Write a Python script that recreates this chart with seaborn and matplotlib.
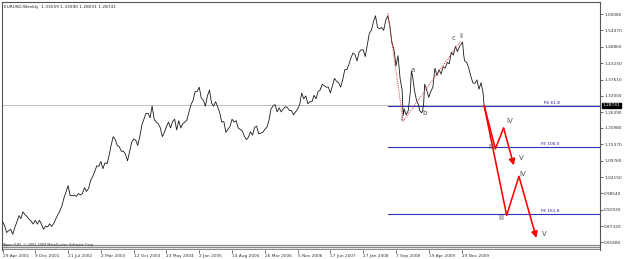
import numpy as np
import pandas as pd
import matplotlib
matplotlib.use("Agg")
import matplotlib.pyplot as plt
import seaborn as sns
from matplotlib.transforms import blended_transform_factory

sns.set_theme(style="white")
plt.rcParams["font.family"] = ["DejaVu Sans"]

# ---------------- data ----------------
dates = [
    "2001-04-29","2001-05-13","2001-05-27","2001-06-10","2001-06-24","2001-07-08","2001-07-22",
    "2001-08-05","2001-08-19","2001-09-02","2001-09-16","2001-09-30","2001-10-14","2001-10-28",
    "2001-11-11","2001-11-25","2001-12-09","2001-12-23",
    "2002-01-06","2002-01-20","2002-02-03","2002-02-17","2002-03-03","2002-03-17","2002-03-31",
    "2002-04-14","2002-04-28","2002-05-12","2002-05-26","2002-06-09","2002-06-23","2002-07-07",
    "2002-07-21","2002-08-04","2002-08-18","2002-09-01","2002-09-15","2002-09-29","2002-10-13",
    "2002-10-27","2002-11-10","2002-11-24","2002-12-08","2002-12-22",
    "2003-01-05","2003-01-19","2003-02-02","2003-02-16","2003-03-02","2003-03-16","2003-03-30",
    "2003-04-13","2003-04-27","2003-05-11","2003-05-25","2003-06-08","2003-06-22","2003-07-06",
    "2003-07-20","2003-08-03","2003-08-17","2003-08-31","2003-09-14","2003-09-28","2003-10-12",
    "2003-10-26","2003-11-09","2003-11-23","2003-12-07","2003-12-21",
    "2004-01-04","2004-01-18","2004-02-01","2004-02-15","2004-02-29","2004-03-14","2004-03-28",
    "2004-04-11","2004-04-25","2004-05-09","2004-05-23","2004-06-06","2004-06-20","2004-07-04",
    "2004-07-18","2004-08-01","2004-08-15","2004-08-29","2004-09-12","2004-09-26","2004-10-10",
    "2004-10-24","2004-11-07","2004-11-21","2004-12-05","2004-12-19",
    "2005-01-02","2005-01-16","2005-01-30","2005-02-13","2005-02-27","2005-03-13","2005-03-27",
    "2005-04-10","2005-04-24","2005-05-08","2005-05-22","2005-06-05","2005-06-19","2005-07-03",
    "2005-07-17","2005-07-31","2005-08-14","2005-08-28","2005-09-11","2005-09-25","2005-10-09",
    "2005-10-23","2005-11-06","2005-11-20","2005-12-04","2005-12-18",
    "2006-01-01","2006-01-15","2006-01-29","2006-02-12","2006-02-26","2006-03-12","2006-03-26",
    "2006-04-09","2006-04-23","2006-05-07","2006-05-21","2006-06-04","2006-06-18","2006-07-02",
    "2006-07-16","2006-07-30","2006-08-13","2006-08-27","2006-09-10","2006-09-24","2006-10-08",
    "2006-10-22","2006-11-05","2006-11-19","2006-12-03","2006-12-17","2006-12-31",
    "2007-01-14","2007-01-28","2007-02-11","2007-02-25","2007-03-11","2007-03-25","2007-04-08",
    "2007-04-22","2007-05-06","2007-05-20","2007-06-03","2007-06-17","2007-07-01","2007-07-15",
    "2007-07-29","2007-08-12","2007-08-26","2007-09-09","2007-09-23","2007-10-07","2007-10-21",
    "2007-11-04","2007-11-18","2007-12-02","2007-12-16","2007-12-30",
    "2008-01-13","2008-01-27","2008-02-10","2008-02-24","2008-03-09","2008-03-23","2008-04-06",
    "2008-04-20","2008-05-04","2008-05-18","2008-06-01","2008-06-15","2008-06-29","2008-07-13",
    "2008-07-27","2008-08-10","2008-08-24","2008-09-07","2008-09-21","2008-10-05","2008-10-19",
    "2008-10-26","2008-11-02","2008-11-16","2008-11-30","2008-12-14","2008-12-21","2008-12-28",
    "2009-01-11","2009-01-25","2009-02-08","2009-02-15","2009-03-01","2009-03-08","2009-03-15",
    "2009-03-22","2009-04-05","2009-04-19","2009-05-03","2009-05-17","2009-05-31","2009-06-14",
    "2009-06-28","2009-07-12","2009-07-26","2009-08-09","2009-08-23","2009-09-06","2009-09-20",
    "2009-10-04","2009-10-18","2009-11-01","2009-11-15","2009-11-29","2009-12-06","2009-12-13",
    "2009-12-20","2010-01-03","2010-01-17","2010-01-31","2010-02-14","2010-02-28","2010-03-14",
    "2010-03-28","2010-04-11","2010-04-25","2010-05-02",
]
closes = [
    0.889,0.875,0.851,0.857,0.862,0.845,0.868,
    0.887,0.909,0.899,0.922,0.912,0.906,0.896,
    0.890,0.880,0.893,0.880,
    0.893,0.880,0.862,0.873,0.870,0.881,0.872,
    0.882,0.898,0.912,0.925,0.943,0.970,0.990,
    1.012,0.978,0.977,0.980,0.975,0.985,0.980,
    0.985,1.005,0.992,1.002,1.030,
    1.043,1.060,1.080,1.078,1.095,1.070,1.090,
    1.087,1.115,1.150,1.180,1.170,1.150,1.145,
    1.130,1.130,1.120,1.097,1.128,1.160,1.172,
    1.168,1.150,1.180,1.220,1.240,
    1.260,1.260,1.245,1.285,1.240,1.230,1.225,
    1.210,1.180,1.195,1.215,1.230,1.210,1.232,
    1.240,1.203,1.235,1.210,1.225,1.230,1.238,
    1.265,1.290,1.305,1.335,1.335,
    1.350,1.312,1.305,1.285,1.320,1.340,1.295,
    1.285,1.300,1.282,1.262,1.230,1.232,1.195,
    1.205,1.215,1.240,1.230,1.235,1.210,1.205,
    1.200,1.182,1.170,1.178,1.197,
    1.185,1.212,1.216,1.190,1.192,1.195,1.205,
    1.212,1.235,1.275,1.285,1.290,1.265,1.279,
    1.265,1.275,1.283,1.280,1.270,1.270,1.255,
    1.265,1.275,1.290,1.330,1.310,1.320,
    1.293,1.300,1.300,1.322,1.310,1.335,1.340,
    1.360,1.355,1.350,1.350,1.330,1.355,1.380,
    1.370,1.365,1.350,1.375,1.410,1.410,1.428,
    1.450,1.467,1.462,1.440,1.470,
    1.478,1.478,1.455,1.495,1.535,1.545,1.575,
    1.595,1.555,1.550,1.555,1.545,1.580,1.595,
    1.562,1.502,1.480,1.423,1.458,1.380,1.340,
    1.252,1.275,1.255,1.270,1.335,1.405,1.392,
    1.340,1.305,1.290,1.270,1.262,1.268,1.295,
    1.360,1.340,1.315,1.335,1.350,1.415,1.390,
    1.410,1.395,1.420,1.415,1.435,1.430,1.470,
    1.460,1.490,1.472,1.490,1.500,1.505,1.462,
    1.440,1.435,1.415,1.388,1.365,1.363,1.375,
    1.343,1.365,1.330,1.2874,
]

tick_dates = ["2001-04-29","2001-12-09","2002-07-21","2003-03-02","2003-10-12","2004-05-23",
              "2005-01-02","2005-08-14","2006-03-26","2006-11-05","2007-06-17","2008-01-27",
              "2008-09-07","2009-04-19","2009-11-29"]
tick_labels = ["29 Apr 2001","9 Dec 2001","21 Jul 2002","2 Mar 2003","12 Oct 2003","23 May 2004",
               "2 Jan 2005","14 Aug 2005","26 Mar 2006","5 Nov 2006","17 Jun 2007","27 Jan 2008",
               "7 Sep 2008","19 Apr 2009","29 Nov 2009"]
price_labels = ["1.60080","1.54470","1.48860","1.43250","1.37610","1.32000","1.26390","1.20980",
                "1.15370","1.09760","1.04150","0.98540","0.92930","0.87320","0.81680"]
price_ticks = [float(s) for s in price_labels]

title_text = "EURUSD,Weekly  1.33559 1.33590 1.28031 1.28741"
last_price = 1.28741

# Fibonacci expansion levels
fib_names = ["PE 61.8", "FE 100.0", "FE 161.8"]
fib_levels = [1.2853, 1.1437, 0.9146]
fib_start = "2008-07-13"

# wave count (dotted) : peak -> I -> II
wave_dates = ["2008-07-13", "2008-10-26", "2009-11-22"]
wave_prices = [1.6038, 1.2330, 1.5080]

# projections
proj1_dates = ["2010-05-02", "2010-07-18", "2010-09-12", "2010-11-21"]
proj1_prices = [1.2874, 1.1380, 1.2100, 1.0816]
proj2_dates = ["2010-05-02", "2010-10-03", "2010-12-26", "2011-04-24"]
proj2_prices = [1.2874, 0.9100, 1.0439, 0.8322]

labels_text = ["I", "a", "b", "c", "II", "III", "IV", "V", "III", "IV", "V"]
labels_dates = ["2008-10-12", "2008-12-28", "2009-03-22", "2009-10-04", "2009-11-29",
                "2010-06-20", "2010-10-24", "2011-01-09", "2010-08-29", "2011-01-23", "2011-06-19"]
labels_prices = [1.241, 1.409, 1.261, 1.519, 1.526, 1.145, 1.234, 1.107, 0.902, 1.052, 0.847]

# ---------------- helpers ----------------
base = pd.Timestamp("2001-04-29")
def wk(d):
    return ((pd.to_datetime(pd.Series(d)) - base).dt.days / 7.0).to_numpy()

W, H = 625, 259
fig = plt.figure(figsize=(W / 100, H / 100), dpi=100)
fig.patch.set_facecolor("white")

def rect(x0, y0, x1, y1):
    return [x0 / W, 1 - y1 / H, (x1 - x0) / W, (y1 - y0) / H]

ax = fig.add_axes(rect(2, 1.5, 600, 244))
axb = fig.add_axes(rect(2, 244, 600, 249.5), sharex=ax)

FS = 3.1
# price line
df = pd.DataFrame({"week": wk(dates), "close": closes})
sns.lineplot(data=df, x="week", y="close", ax=ax, color="#1a1a1a", lw=0.6, zorder=3)

# current price line
ax.axhline(last_price, color="#c0c0c0", lw=0.7, zorder=1)

# fib levels
x0 = wk([fib_start])[0]
for name, lv in zip(fib_names, fib_levels):
    ax.plot([x0, 700], [lv, lv], color="#3333bb", lw=0.8, zorder=2)
    ax.text(543.5, lv + 0.004, name, fontsize=FS, color="#1a1a99", ha="right", va="bottom", zorder=4)

# dotted wave lines
ax.plot(wk(wave_dates), wave_prices, color="#e03030", lw=0.7, ls=(0, (1, 1.2)), zorder=4)

# projections
for pd_, pp in ((proj1_dates, proj1_prices), (proj2_dates, proj2_prices)):
    xs = wk(pd_)
    ax.plot(xs[:-1], pp[:-1], color="red", lw=1.15, zorder=5, solid_capstyle="butt")
    ax.annotate("", xy=(xs[-1], pp[-1]), xytext=(xs[-2], pp[-2]),
                arrowprops=dict(arrowstyle="-|>,head_length=0.6,head_width=0.3", color="red",
                                lw=1.15, shrinkA=0, shrinkB=0, mutation_scale=6), zorder=5)

for t, x, y in zip(labels_text, wk(labels_dates), labels_prices):
    ax.text(x, y, t, fontsize=5.0, color="#505050", ha="center", va="center", zorder=6)

# title
ax.text(0.003, 0.985, title_text, transform=ax.transAxes, fontsize=FS, color="#202020",
        ha="left", va="top")

# axes formatting
ax.set_xlim(-0.49, 583.1)
ax.set_ylim(0.8116, 1.644)
ax.yaxis.tick_right()
ax.set_yticks(price_ticks)
ax.set_yticklabels(price_labels)
ax.tick_params(axis="y", length=2, width=0.5, pad=1, labelsize=FS, colors="#333333", right=True, left=False)
ax.tick_params(axis="x", bottom=False, labelbottom=False)
ax.set_xlabel("")
ax.set_ylabel("")
for s in ("left", "top", "right"):
    ax.spines[s].set_color("#555555")
    ax.spines[s].set_linewidth(0.8)
ax.spines["bottom"].set_visible(False)

# price box
tr = blended_transform_factory(ax.transAxes, ax.transData)
ax.text(1.004, last_price, "1.28741", transform=tr, fontsize=FS, color="white", ha="left",
        va="center", bbox=dict(boxstyle="square,pad=0.15", fc="black", ec="black"), zorder=7)

# bottom strip with separator lines and dates
axb.set_ylim(0, 1)
for yy in (0.85, 0.5, 0.15):
    axb.axhline(yy, color="#8a8a8a", lw=0.9)
axb.text(0.002, 0.9, "Alpari (UK), \u00a9 2001-2009 MetaQuotes Software Corp.", transform=axb.transAxes,
         fontsize=2.4, color="#303030", ha="left", va="center")
axb.set_yticks([])
axb.set_xticks(wk(tick_dates))
axb.set_xticklabels(tick_labels)
for lab in axb.get_xticklabels():
    lab.set_horizontalalignment("left")
axb.tick_params(axis="x", length=2, width=0.5, pad=1.5, labelsize=FS, colors="#333333", bottom=True)
for s in ("left", "right"):
    axb.spines[s].set_color("#555555")
    axb.spines[s].set_linewidth(0.8)
axb.spines["top"].set_visible(False)
axb.spines["bottom"].set_visible(False)
axb.set_facecolor("white")

fig.savefig("out.png", dpi=100)
